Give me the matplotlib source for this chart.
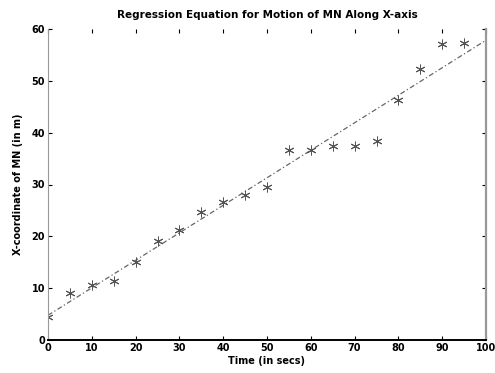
import numpy as np
import matplotlib.pyplot as plt

# time (sec) and measured x-coordinate (m)
time_s = [0, 5, 10, 15, 20, 25, 30, 35, 40, 45, 50, 55, 60, 65, 70, 75, 80, 85, 90, 95]
x_coord = [4.4, 9.1, 10.6, 11.4, 15.0, 19.1, 21.2, 24.7, 26.6, 28.0, 29.5, 36.7, 36.7,
           37.5, 37.5, 38.4, 46.3, 52.3, 57.1, 57.3]
x_ticks = [0, 10, 20, 30, 40, 50, 60, 70, 80, 90, 100]
y_ticks = [0, 10, 20, 30, 40, 50, 60]

slope, icpt = np.polyfit(time_s, x_coord, 1)
fit_x = np.array([0, 100])

fig = plt.figure(figsize=(4.95, 3.73), dpi=100)
ax = fig.add_axes([48 / 495, 33 / 373, 438 / 495, 311 / 373])

ax.plot(fit_x, icpt + slope * fit_x, linestyle=(0, (4, 2, 1, 2)), color='#666666',
        linewidth=0.9)
# asterisk markers, matlab style
ax.plot(time_s, x_coord, linestyle='none', marker=(6, 2, 0), markersize=7,
        color='#555555', markeredgewidth=0.7)

ax.set_xlim(0, 100)
ax.set_ylim(0, 60)
ax.set_xticks(x_ticks)
ax.set_yticks(y_ticks)
ax.tick_params(direction='in', length=3, width=0.8, labelsize=7, top=True, right=True,
               pad=2)
for lab in ax.get_xticklabels() + ax.get_yticklabels():
    lab.set_fontweight('bold')

ax.spines['top'].set_visible(False)
ax.spines['left'].set_color('#999999')
ax.spines['left'].set_linewidth(0.8)
ax.spines['right'].set_color('#999999')
ax.spines['right'].set_linewidth(1.6)
ax.spines['bottom'].set_color('black')
ax.spines['bottom'].set_linewidth(1.4)

ax.set_title('Regression Equation for Motion of MN Along X-axis', fontsize=7.5,
             fontweight='bold', pad=8)
ax.set_xlabel('Time (in secs)', fontsize=7, fontweight='bold', labelpad=2)
ax.set_ylabel('X-coordinate of MN (in m)', fontsize=7, fontweight='bold', labelpad=6)

fig.savefig('out.png', dpi=100)
